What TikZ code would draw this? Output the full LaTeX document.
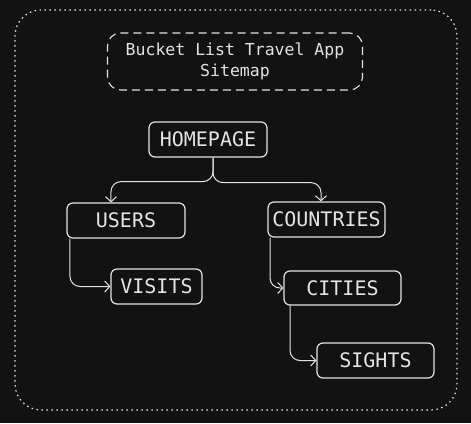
\documentclass[tikz,border=0pt]{standalone}
\usepackage{fontspec}
\setmonofont{DejaVu Sans Mono}
\usetikzlibrary{arrows.meta}
\definecolor{bgdark}{HTML}{121212}
\definecolor{chalk}{HTML}{E4E4E4}
\tikzstyle{line} = [draw=chalk, line width=1pt, rounded corners=10pt, -{Straight Barb[length=5pt, width=11pt]}]
\tikzstyle{page} = [rectangle, draw=chalk, fill=bgdark, rounded corners=6pt, line width=1.2pt, text=chalk, minimum height=35pt, minimum width=117pt, text centered, node distance=80pt, font=\fontsize{20}{24}\selectfont\ttfamily]
\tikzstyle{sitemap_title} = [rectangle, draw=chalk, line width=1.1pt, dash pattern=on 8pt off 5pt, rounded corners=13pt, minimum width=255pt, minimum height=57pt, align=center, text=chalk, font=\fontsize{16.5}{21}\selectfont\ttfamily]
\tikzstyle{outer_frame} = [rectangle, draw=chalk, line width=1.2pt, dash pattern=on 1.5pt off 3.5pt, rounded corners=26pt, minimum width=442pt, minimum height=400pt]

\begin{document}
\begin{tikzpicture}
\fill [bgdark] (-208pt,139.5pt) rectangle (263pt,-283.5pt);

\node [page, minimum width=118pt] (home) {HOMEPAGE};
\node [outer_frame, below of=home, node distance=70.5pt, xshift=28pt] (frame) {};
\node [sitemap_title, above of=home, node distance=78pt, xshift=27pt] (title) {Bucket List Travel App\\Sitemap};

\node [page, below of=home, node distance=81pt, xshift=-82pt, minimum width=118pt] (users) {USERS};
\node [page, below of=home, node distance=80pt, xshift=118.5pt] (countries) {COUNTRIES};
\path [line] ([xshift=5pt]home.south) -- ++(0,-24pt) -| ([xshift=-15pt]users.north);
\path [line] ([xshift=5pt]home.south) -- ++(0,-25pt) -| ([xshift=-5.5pt]countries.north);

\node [page, below of=users, node distance=66pt, xshift=30.5pt, minimum width=91pt] (visits) {VISITS};
\path [line] ([xshift=-56pt]users.south) |- (visits.west);

\node [page, below of=countries, node distance=68.5pt, xshift=16pt, minimum height=34pt] (cities) {CITIES};
\path [line] ([xshift=-56.5pt]countries.south) |- (cities.west);

\node [page, below of=cities, node distance=72.5pt, xshift=33pt] (sights) {SIGHTS};
\path [line] ([xshift=-52.5pt]cities.south) |- (sights.west);
\end{tikzpicture}
\end{document}
